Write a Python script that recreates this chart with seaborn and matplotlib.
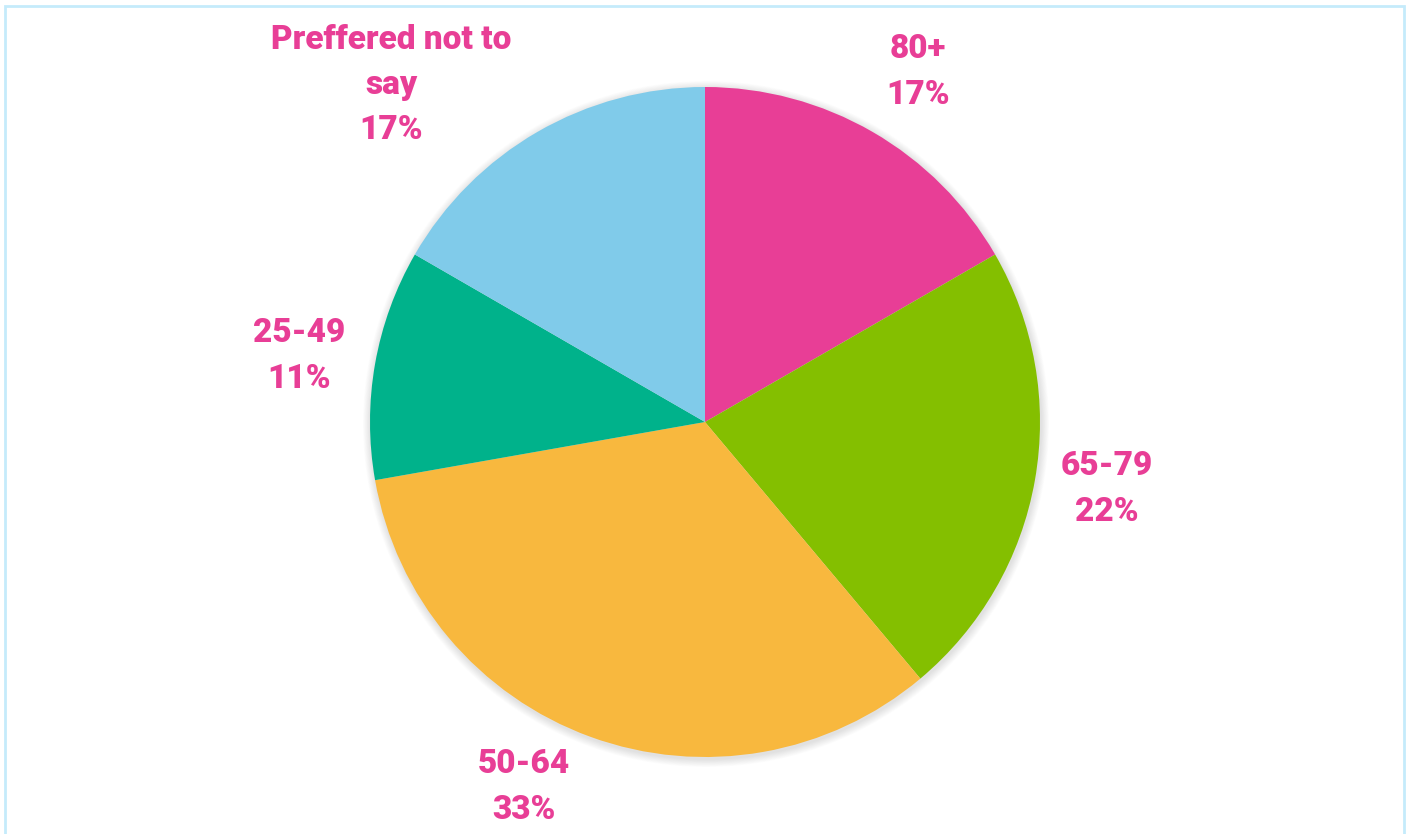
import matplotlib.pyplot as plt
import seaborn as sns
from matplotlib.patches import Circle

sns.set_theme(style="white")
plt.rcParams['font.family'] = ['Roboto', 'DejaVu Sans']

# données
categories = ["80+", "65-79", "50-64", "25-49", "Preffered not to\nsay"]
counts = [3, 4, 6, 2, 3]
colors = ["#E83E96", "#84BF00", "#F8B83E", "#00B28B", "#80CBEA"]
pct_labels = ["17%", "22%", "33%", "11%", "17%"]

label_color = "#E83E96"
label_pos = [(918, 762), (1107, 345), (524, 47), (299, 478), (391, 749)]

fig = plt.figure(figsize=(14.08, 8.34), dpi=100)
ax = fig.add_axes([0, 0, 1, 1])

center = (705, 412)
radius = 335

# ombre douce
for k in range(10, 0, -1):
    ax.add_patch(Circle((center[0] + 1, center[1] - 2), radius + k * 0.8,
                        color="black", alpha=0.012, lw=0, zorder=0))

wedges, texts = ax.pie(counts, colors=colors, startangle=90, counterclock=False,
                       center=center, radius=radius, labels=[
                           f"{c}\n{p}" for c, p in zip(categories, pct_labels)],
                       labeldistance=1.2, frame=True,
                       wedgeprops=dict(linewidth=0, zorder=1),
                       textprops=dict(fontsize=24, fontweight="black",
                                      color=label_color))
ax.set_xlim(0, 1408)
ax.set_ylim(0, 834)
ax.set_aspect("auto")
ax.axis("off")

for t, pos in zip(texts, label_pos):
    t.set_position(pos)
    t.set_ha("center")
    t.set_va("center")
    t.set_linespacing(1.53)

# cadre bleu clair
ax.plot([5, 5, 1404, 1404], [-10, 828, 828, -10], color="#C5EBFB", lw=2,
        solid_joinstyle="miter", clip_on=False)

fig.savefig("out.png", dpi=100, facecolor="white")
